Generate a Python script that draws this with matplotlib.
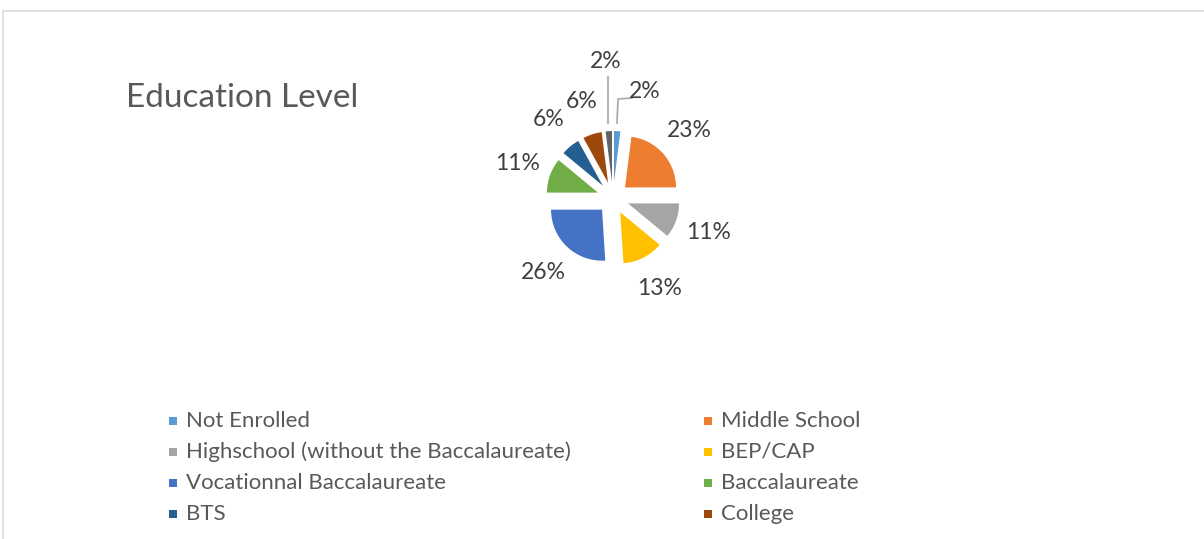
import matplotlib
matplotlib.use("Agg")
import matplotlib.pyplot as plt
import numpy as np
from matplotlib.patches import Rectangle

categories = ["Not Enrolled", "Middle School", "Highschool (without the Baccalaureate)",
              "BEP/CAP", "Vocationnal Baccalaureate", "Baccalaureate", "BTS", "College", "Other"]
values = [2, 23, 11, 13, 26, 11, 6, 6, 2]
colors = ["#5B9BD5", "#ED7D31", "#A5A5A5", "#FFC000", "#4472C4", "#70AD47",
          "#255E91", "#9E480E", "#636363"]
legend_count = 8
title = "Education Level"

W, H = 1204, 539
plt.rcParams['font.family'] = ['Lato', 'DejaVu Sans']
fig = plt.figure(figsize=(W / 100, H / 100), dpi=100)
ax = fig.add_axes([0, 0, 1, 1])
ax.set_xlim(0, W)
ax.set_ylim(0, H)
ax.set_aspect('equal')
ax.axis('off')

def Y(y):
    return H - y

# chart border
ax.add_patch(Rectangle((3, Y(560)), 1300, 560 - 11, fill=False, ec="#d9d9d9", lw=1.2))

cx, cy = 613, 198
wedges, texts, autotexts = ax.pie(values, colors=colors, radius=51, center=(cx, Y(cy)),
                                  startangle=90, counterclock=False, explode=[16] * len(values),
                                  autopct='%1.0f%%', pctdistance=1.68,
                                  wedgeprops=dict(linewidth=0),
                                  textprops=dict(fontsize=16.5, color="#404040"))
ax.set_xlim(0, W)
ax.set_ylim(0, H)

# reposition small labels with leader lines
autotexts[0].set_position((645, Y(91)))
autotexts[8].set_position((606, Y(62)))
ax.plot([617, 618, 632], [Y(123), Y(99), Y(98)], color="#a6a6a6", lw=1.2)
ax.plot([608, 608], [Y(77), Y(123)], color="#a6a6a6", lw=1.2)

ax.text(126, Y(98), title, fontsize=24, color="#595959", va='center', ha='left')

# legend
col_x = [173, 708]
row_y = [421, 452, 483, 514]
for i in range(legend_count):
    c = i % 2
    r = i // 2
    x0, y0 = col_x[c], row_y[r]
    ax.add_patch(Rectangle((x0 - 4, Y(y0) - 4), 8, 8, color=colors[i], lw=0))
    ax.text(x0 + 13, Y(y0), categories[i], fontsize=16, color="#595959", va='center', ha='left')

fig.savefig("out.png", dpi=100)
